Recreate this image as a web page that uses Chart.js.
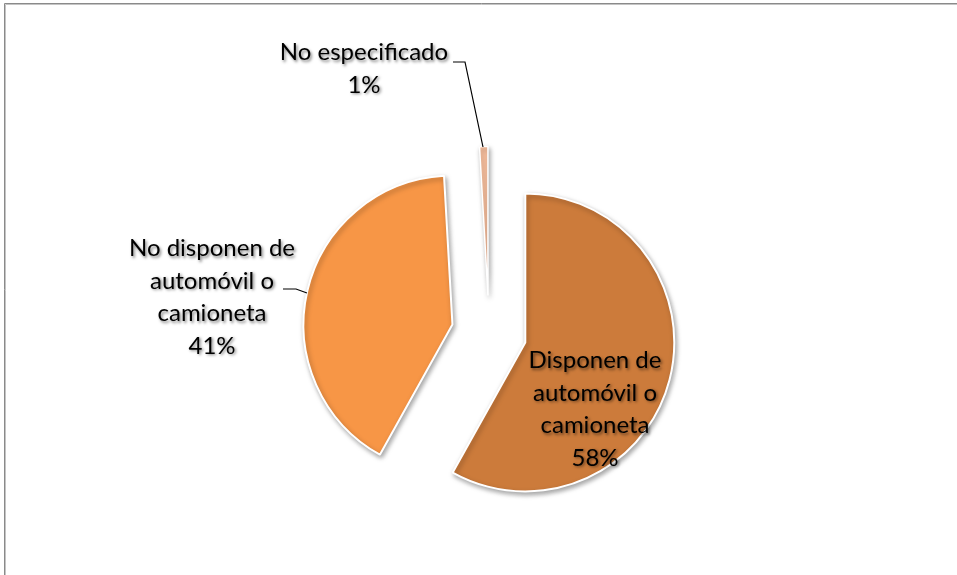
<!DOCTYPE html>
<html>
<head>
<meta charset="utf-8">
<script src="https://cdn.jsdelivr.net/npm/chart.js@4/dist/chart.umd.min.js"></script>
<style>
  html, body { margin: 0; padding: 0; background: #fff; }
  #wrap { width: 957px; height: 575px; position: relative; }
</style>
</head>
<body>
<div id="wrap"><canvas id="c" width="957" height="575"></canvas></div>
<script>
// ---- data ----
const categories = ['Disponen de automóvil o camioneta', 'No disponen de automóvil o camioneta', 'No especificado'];
const values = [58.1, 41.0, 0.9];
const percentLabels = ['58%', '41%', '1%'];
const labelLines = [
  ['Disponen de', 'automóvil o', 'camioneta'],
  ['No disponen de', 'automóvil o', 'camioneta'],
  ['No especificado']
];

// ---- style ----
const sliceColors = ['#CC7B3B', '#F79646', '#F9C09F'];
const EXPLODE = 37.5;   // translation of each slice along its mid-angle, px
const RADIUS = 149;
const FONT = '24px Lato, "Open Sans", sans-serif';
const LINE_H = 32.5;

// label placement (text centre x, first baseline y) and leader lines
const labelPlacement = [
  { x: 595, y: 368, leader: null },
  { x: 212, y: 256, leader: [[283, 289], [296, 289], [307, 293]] },
  { x: 364, y: 60, leader: [[453, 62], [465, 62], [483, 147]] }
];

const framePlugin = {
  id: 'frame',
  beforeDraw(chart) {
    const ctx = chart.ctx;
    ctx.save();
    ctx.lineWidth = 1;
    ctx.strokeStyle = '#8a8a8a';
    ctx.beginPath();
    ctx.moveTo(4.5, 1000); ctx.lineTo(4.5, 3.5); ctx.lineTo(1000, 3.5);
    ctx.stroke();
    ctx.strokeStyle = '#c4c4c4';
    ctx.beginPath();
    ctx.moveTo(5.5, 1000); ctx.lineTo(5.5, 4.5); ctx.lineTo(1000, 4.5);
    ctx.stroke();
    ctx.restore();
  }
};

// explode every slice by moving its centre along the mid-angle
const explodePlugin = {
  id: 'explode',
  afterDatasetUpdate(chart, args) {
    args.meta.data.forEach(arc => {
      const mid = (arc.startAngle + arc.endAngle) / 2;
      arc.x += Math.cos(mid) * EXPLODE;
      arc.y += Math.sin(mid) * EXPLODE;
    });
  },
  beforeDatasetDraw(chart) {
    const ctx = chart.ctx;
    ctx.save();
    ctx.shadowColor = 'rgba(0,0,0,0.35)';
    ctx.shadowBlur = 5;
    ctx.shadowOffsetX = 1.5;
    ctx.shadowOffsetY = 2.5;
  },
  afterDatasetDraw(chart) {
    chart.ctx.restore();
  }
};

const labelPlugin = {
  id: 'pieLabels',
  afterDraw(chart) {
    const ctx = chart.ctx;
    ctx.save();
    ctx.strokeStyle = '#000';
    ctx.lineWidth = 1.2;
    labelPlacement.forEach(p => {
      if (!p.leader) return;
      ctx.beginPath();
      p.leader.forEach((pt, i) => i ? ctx.lineTo(pt[0], pt[1]) : ctx.moveTo(pt[0], pt[1]));
      ctx.stroke();
    });
    ctx.font = FONT;
    ctx.textAlign = 'center';
    ctx.textBaseline = 'alphabetic';
    ctx.fillStyle = '#000';
    ctx.shadowColor = 'rgba(0,0,0,0.5)';
    ctx.shadowBlur = 3;
    ctx.shadowOffsetX = 1.5;
    ctx.shadowOffsetY = 1.5;
    labelPlacement.forEach((p, i) => {
      const lines = labelLines[i].concat([percentLabels[i]]);
      lines.forEach((t, j) => ctx.fillText(t, p.x, p.y + j * LINE_H));
    });
    ctx.restore();
  }
};

new Chart(document.getElementById('c'), {
  type: 'pie',
  data: {
    labels: categories,
    datasets: [{
      data: values,
      backgroundColor: sliceColors,
      borderColor: '#ffffff',
      borderWidth: [2, 2, 1.5]
    }]
  },
  options: {
    responsive: false,
    animation: false,
    radius: RADIUS,
    layout: { padding: { left: 21, right: 0, top: 91, bottom: 0 } },
    plugins: {
      legend: { display: false },
      tooltip: { enabled: false }
    }
  },
  plugins: [framePlugin, explodePlugin, labelPlugin]
});
</script>
</body>
</html>
